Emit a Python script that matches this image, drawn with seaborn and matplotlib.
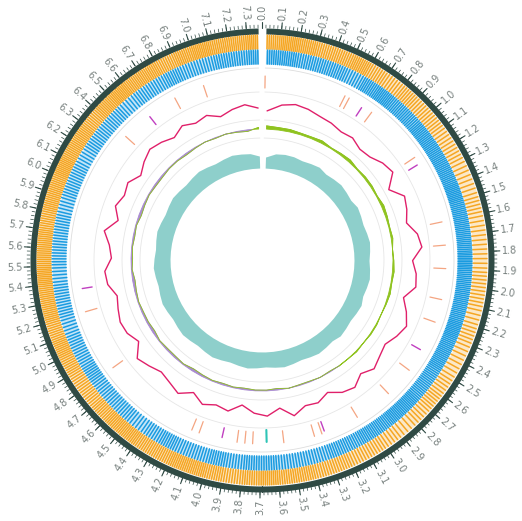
import numpy as np
import pandas as pd
import matplotlib
matplotlib.use("Agg")
import matplotlib.pyplot as plt
import seaborn as sns

# genome length (Mb) and tick labels
genome_len = 7.38
tick_pos = [round(i * 0.1, 1) for i in range(74)]

# gene counts per 0.1 Mb bin (forward strand = orange, reverse strand = blue)
fwd_density = [9, 10, 9, 8, 8, 9, 7, 6, 7, 6, 6, 5, 5, 4, 4, 5, 4, 4, 4, 5,
               5, 4, 5, 4, 4, 5, 6, 5, 4, 5, 6, 6, 7, 7, 8, 8, 9, 8, 7, 8,
               9, 9, 8, 8, 9, 9, 8, 7, 7, 8, 9, 8, 9, 9, 10, 9, 9, 8, 9, 9,
               10, 9, 9, 8, 9, 10, 9, 9, 8, 9, 10, 9, 9, 10]
rev_density = [8, 8, 7, 7, 7, 6, 8, 9, 8, 8, 9, 9, 9, 9, 10, 9, 9, 9, 10, 9,
               9, 9, 10, 9, 9, 8, 8, 9, 9, 8, 8, 7, 7, 6, 6, 6, 7, 7, 6, 7,
               6, 6, 7, 6, 5, 6, 6, 6, 7, 6, 6, 5, 6, 6, 5, 6, 6, 6, 5, 6,
               6, 5, 6, 6, 6, 5, 6, 6, 7, 6, 6, 7, 7, 8]

# GC content deviation per 0.1 Mb bin
gc_content = [-2, 3, 5, 4, 2, 1, -1, 0, -3, -2, 2, 4, -5, 3, 1, -2, 4, 6, -1, 2,
              3, -4, 1, 5, 2, -2, 0, 3, -1, 4, 2, -3, 1, 0, 5, -2, 3, 1, -4, 2,
              0, 3, -2, 4, 1, -1, 2, 5, -3, 1, 2, 0, -2, 3, 4, -1, 1, 6, -2, 3,
              0, 2, -3, 1, 4, 2, -1, 3, 0, 2, -2, 1, 3, 0]
# GC skew per 0.1 Mb bin
gc_skew = [4, 3, 3, 2, 2, 3, 1, 2, 3, 1, 2, 2, 1, 3, 2, 1, 2, 0, 1, 2,
           1, 2, 1, 0, 1, 1, 0, 1, 0, 0, -1, 0, -1, -1, 0, -2, -1, -1, -2, -1,
           -2, -1, -2, -3, -1, -2, -2, -1, -3, -2, -2, -1, -2, -3, -1, -2, -1, -2, -1, -3,
           -2, -1, -2, -2, -1, -1, -2, -1, 0, -1, 0, -1, -2, 2]
# coverage per 0.1 Mb bin
coverage = [10, 14, 15, 15, 14, 15, 16, 14, 15, 16, 15, 14, 16, 15, 14, 15, 16, 15, 14, 15,
            16, 15, 14, 16, 15, 14, 15, 16, 14, 15, 16, 15, 14, 15, 16, 15, 14, 15, 16, 15,
            14, 15, 16, 15, 14, 15, 16, 15, 14, 15, 16, 15, 14, 15, 16, 15, 14, 15, 16, 15,
            14, 15, 16, 15, 14, 15, 16, 15, 14, 15, 16, 15, 14, 11]

# sparse features (position Mb)
rrna_pos = [0.02, 0.55, 0.58, 0.75, 1.15, 1.6, 1.75, 1.9, 2.1, 2.25, 2.6, 2.8, 3.05,
            3.3, 3.35, 3.55, 3.75, 3.8, 3.85, 4.1, 4.15, 4.8, 5.2, 6.4, 6.8, 7.0]
trna_pos = [0.68, 1.2, 2.45, 3.28, 3.95, 5.35, 6.6]
crispr_pos = [3.66]

fig = plt.figure(figsize=(5.22, 5.21), dpi=100)
sns.set_theme(style="white")
ax = fig.add_axes([(262 - 245) / 522, (261 - 245) / 521, 490 / 522, 490 / 521], projection="polar")
ax.set_theta_zero_location("N")
ax.set_theta_direction(-1)
ax.set_ylim(0, 245)
ax.axis("off")


def th(p):
    return 2 * np.pi * np.asarray(p) / genome_len


gap = 0.02


def ring(r, color, lw=0.6):
    t = np.linspace(th(gap), th(genome_len - gap), 400)
    ax.plot(t, np.full_like(t, r), color=color, lw=lw)


# outer dark ring with ticks
t = np.linspace(th(gap), th(genome_len - gap), 600)
ax.fill_between(t, 226, 232, color="#2f4a44", lw=0)
minor = np.arange(0.02, genome_len - 0.02, 0.02)
for p in minor:
    ax.plot([th(p)] * 2, [232, 235], color="#2f4a44", lw=0.5)
for p in tick_pos:
    ang = np.degrees(th(p))
    ax.plot([th(p)] * 2, [232, 238], color="#2f4a44", lw=0.8)
    if ang <= 180:
        rot, ha = 90 - ang, "left"
    else:
        rot, ha = 270 - ang, "right"
    ax.text(th(p), 240, f"{p:.1f}", rotation=rot, rotation_mode="anchor",
            ha=ha, va="center", fontsize=7, color="#77807e")

# gene strand tracks
for dens, r0, r1, col in [(fwd_density, 211, 225, "#f5a623"), (rev_density, 196, 210, "#1a9be0")]:
    ax.fill_between(t, r0, r1, color=col, lw=0, alpha=0.25)
    for i, n in enumerate(dens):
        for k in range(n):
            p = i * 0.1 + (k + 0.5) * 0.1 / n
            if gap < p < genome_len - gap:
                ax.plot([th(p)] * 2, [r0, r1], color=col, lw=1.1)

ring(192, "#dddddd")
ring(168, "#e6e6e6")
ring(140, "#e6e6e6")
ring(122, "#e6e6e6")

# sparse features
for p in rrna_pos:
    ax.plot([th(p)] * 2, [172, 184], color="#f4a582", lw=0.9)
for p in trna_pos:
    ax.plot([th(p)] * 2, [172, 182], color="#c03fc0", lw=1.0)
for p in crispr_pos:
    ax.plot([th(p)] * 2, [170, 182], color="#2ec4b6", lw=1.5)

mid = np.array(tick_pos) + 0.05
mid[0] = 0.04
df = pd.DataFrame({"theta": th(mid), "gc": 152 + np.array(gc_content) * 1.4,
                   "skew": np.array(gc_skew), "cov": 93 + np.array(coverage)})

# GC content line
sns.lineplot(data=df, x="theta", y="gc", ax=ax, color="#e0206a", lw=1.0, sort=False)

# GC skew
base = 131
sk = base + df["skew"] * 0.8
ax.fill_between(df["theta"], base, sk, where=sk >= base, color="#8fc31f", lw=0.6, interpolate=True)
ax.fill_between(df["theta"], base, sk, where=sk < base, color="#a98bd0", lw=0.6, interpolate=True)
sns.lineplot(x=df["theta"], y=sk, ax=ax, color="#8fc31f", lw=0.6, sort=False)

# coverage
ax.fill_between(df["theta"], 92, df["cov"], color="#8ecfcb", lw=0)

ax.set_xlabel("")
ax.set_ylabel("")
ax.set_ylim(0, 245)
fig.savefig("out.png", dpi=100)
